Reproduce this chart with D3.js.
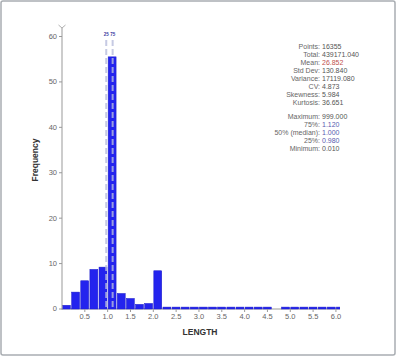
<!DOCTYPE html>
<html><head><meta charset="utf-8">
<script src="https://cdn.jsdelivr.net/npm/d3@7"></script>
<style>body{margin:0;background:#fff}svg{display:block}</style>
</head><body>
<svg id="c" width="396" height="356"></svg>
<script>
// Data
const binStarts = [0.0,0.2,0.4,0.6,0.8,1.0,1.2,1.4,1.6,1.8,2.0,2.2,2.4,2.6,2.8,3.0,3.2,3.4,3.6,3.8,4.0,4.2,4.4,4.6,4.8,5.0,5.2,5.4,5.6,5.8,6.0];
const frequency = [0.6,3.5,6.0,8.5,9.0,55.3,3.2,2.1,0.8,1.0,8.2,0.2,0.2,0.2,0.2,0.2,0.2,0.2,0.2,0.2,0.2,0.2,0.2,0,0.2,0.2,0.2,0.2,0.2,0.2,0.2];
const binWidth = 0.2;
const xTicks = [0.5,1.0,1.5,2.0,2.5,3.0,3.5,4.0,4.5,5.0,5.5,6.0];
const yTicks = [0,10,20,30,40,50,60];
const quartileLines = [0.98, 1.12];
const quartileTags = ["25","75"];
const statLabels = ["Points:","Total:","Mean:","Std Dev:","Variance:","CV:","Skewness:","Kurtosis:","","Maximum:","75%:","50% (median):","25%:","Minimum:"];
const statValues = ["16355","439171.040","26.852","130.840","17119.080","4.873","5.984","36.651","","999.000","1.120","1.000","0.980","0.010"];
const statColors = ["#555","#555","#c0504d","#555","#555","#555","#555","#555","","#555","#5a5ab0","#5a5ab0","#5a5ab0","#555"];

const svg = d3.select("#c");
const font = "Liberation Sans, Arial, sans-serif";

// frame
svg.append("rect").attr("x",1).attr("y",1).attr("width",394).attr("height",354)
  .attr("fill","#fff").attr("stroke","#a9adb2").attr("stroke-width",1.5).attr("rx",2);

const x = d3.scaleLinear().domain([0,6.1]).range([61.5,340]);
const y = d3.scaleLinear().domain([0,60]).range([308.5,36]);

svg.append("defs").append("clipPath").attr("id","pc").append("rect")
  .attr("x",x(0)).attr("y",0).attr("width",x(6.1)-x(0)).attr("height",400);

// x axis baseline
svg.append("line").attr("x1",x(0)).attr("x2",x(6.1)).attr("y1",y(0)+0.5).attr("y2",y(0)+0.5)
  .attr("stroke","#999").attr("stroke-width",1);

// bars
svg.append("g").attr("clip-path","url(#pc)").selectAll("rect").data(binStarts).join("rect")
  .attr("x",(d)=>x(d)+1)
  .attr("width",(d)=>x(d+binWidth)-x(d)-1.2)
  .attr("y",(d,i)=>y(frequency[i])-0.5)
  .attr("height",(d,i)=> frequency[i]>0 ? y(0)-y(frequency[i])+1 : 0)
  .attr("fill","#2424ee").attr("stroke","#1c1cc8").attr("stroke-width",0.5);

// quartile dashed lines
svg.append("g").selectAll("line").data(quartileLines).join("line")
  .attr("x1",d=>x(d)).attr("x2",d=>x(d)).attr("y1",40).attr("y2",y(0))
  .attr("stroke","#b8bddd").attr("stroke-width",2).attr("stroke-dasharray","6,3").attr("opacity",0.8);
svg.append("g").selectAll("text").data(quartileLines).join("text")
  .attr("x",d=>x(d)).attr("y",36).attr("text-anchor","middle")
  .attr("font-family",font).attr("font-size",4.5).attr("font-weight","bold").attr("fill","#3a3aa0")
  .text((d,i)=>quartileTags[i]);

// y axis
const yAxis = svg.append("g").attr("transform",`translate(${x(0)+0.5},0)`)
  .call(d3.axisLeft(y).tickValues(yTicks).tickSize(3).tickPadding(2).tickFormat(d3.format("d")));
yAxis.select(".domain").remove();
yAxis.append("line").attr("x1",0).attr("x2",0).attr("y1",28).attr("y2",y(0)+1).attr("stroke","#999");
yAxis.selectAll(".tick line").attr("stroke","#999");
yAxis.selectAll("text").attr("font-family",font).attr("font-size",7.5).attr("fill","#666");
// chevron
svg.append("path").attr("d",`M${x(0)-3},25 L${x(0)+0.5},28 L${x(0)+4},25`)
  .attr("fill","none").attr("stroke","#999").attr("stroke-width",0.8);

// x axis
const xAxis = svg.append("g").attr("transform",`translate(0,${y(0)+0.5})`)
  .call(d3.axisBottom(x).tickValues(xTicks).tickSize(3).tickPadding(2).tickFormat(d3.format(".1f")));
xAxis.select(".domain").remove();
xAxis.selectAll(".tick line").attr("stroke","#999");
xAxis.selectAll("text").attr("font-family",font).attr("font-size",7.5).attr("fill","#666");

// axis titles
svg.append("text").attr("x",200).attr("y",335).attr("text-anchor","middle")
  .attr("font-family",font).attr("font-size",8.5).attr("font-weight","bold").attr("fill","#333").text("LENGTH");
svg.append("text").attr("transform","translate(38,160) rotate(-90)").attr("text-anchor","middle")
  .attr("font-family",font).attr("font-size",8.5).attr("font-weight","bold").attr("fill","#333").text("Frequency");

// stats
const rowY = (i)=> 49 + i*8 - (i>8 ? 2 : 0);
const st = svg.append("g");
statLabels.forEach((l,i)=>{
  if(!l) return;
  st.append("text").attr("x",320).attr("y",rowY(i)).attr("text-anchor","end")
    .attr("font-family",font).attr("font-size",7).attr("fill","#666").text(l);
  st.append("text").attr("x",322).attr("y",rowY(i))
    .attr("font-family",font).attr("font-size",7).attr("fill",statColors[i]).text(statValues[i]);
});
</script>
</body></html>
